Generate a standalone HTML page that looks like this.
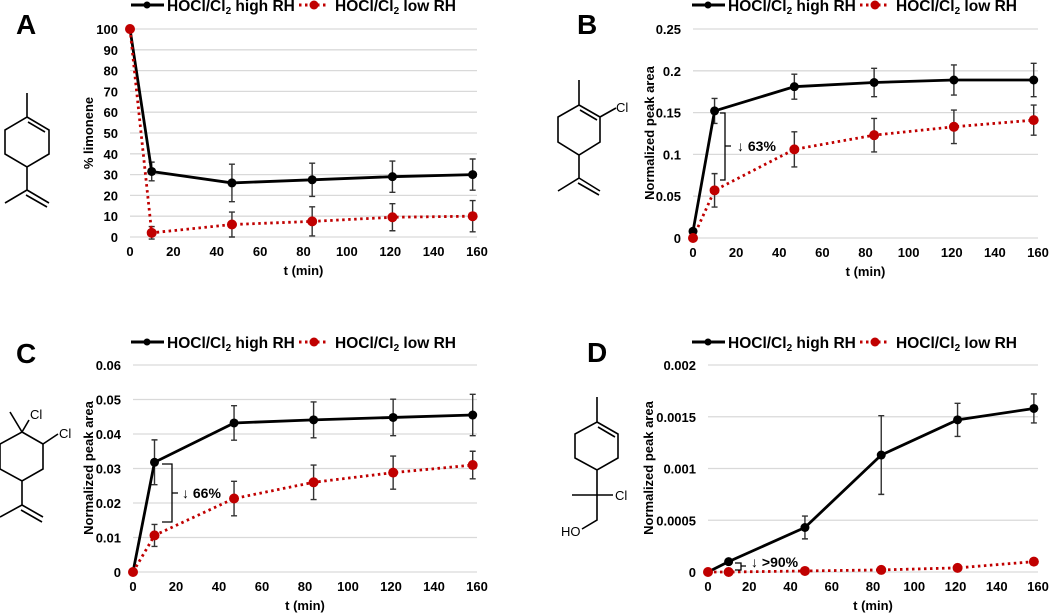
<!DOCTYPE html>
<html><head><meta charset="utf-8">
<style>
html,body{margin:0;padding:0;background:#fff;}
svg{display:block;font-family:"Liberation Sans",Arial,sans-serif;font-weight:bold;}
</style></head>
<body>
<svg id="s" width="1050" height="613" viewBox="0 0 1050 613" xmlns="http://www.w3.org/2000/svg">
<g stroke="#000" stroke-width="1.6" fill="none">
<!-- A limonene -->
<path d="M27,93 L27,117 M27,117 L49,130 L49,154 L27,167 L5,154 L5,130 Z M28,122 L45,132 M27,167 L27,190 L5,203 M27,190 L49,203 M26,195 L47,207"/>
<!-- B -->
<path d="M579,80 L579,105 M579,105 L600,117 L600,142 L579,155 L558,142 L558,117 Z M580,110 L597,120 M600,117 L616,108 M579,155 L579,178 L558,191 M579,178 L600,191 M578,183 L599,195"/>
<!-- C -->
<path d="M22,432 L43,444 L43,469 L22,481 L0,469 L0,444 Z M22,432 L10,412 M22,432 L29,420 M43,444 L58,434 M22,481 L22,505 L0,517 M22,505 L43,517 M21,510 L42,522"/>
<!-- D -->
<path d="M597,397 L597,422 M597,422 L618,434 L618,458 L597,470 L575,458 L575,434 Z M598,427 L615,437 M597,470 L597,495 M572,495 L613,495 M597,495 L597,520 L582,529"/>
</g>
<g font-size="13" fill="#000" font-weight="normal">
<text x="616" y="112">Cl</text>
<text x="30" y="419">Cl</text>
<text x="59" y="438">Cl</text>
<text x="615" y="500">Cl</text>
<text x="561" y="536">HO</text>
</g>
<g font-size="28" fill="#000">
<text x="16" y="34">A</text>
<text x="577" y="34">B</text>
<text x="16" y="363">C</text>
<text x="587" y="362">D</text>
</g>
<g id="plots"></g>
</svg>
<script>
const NS="http://www.w3.org/2000/svg";
const P=document.getElementById('plots');
function el(t,a,txt){const e=document.createElementNS(NS,t);for(const k in a)e.setAttribute(k,a[k]);if(txt!==undefined)e.textContent=txt;P.appendChild(e);return e;}
const T=[0,10,47,84,121,158];
function panel(c){
 const X=t=>c.x0+t/160*(c.x1-c.x0);
 const Y=v=>c.y0-v/c.ymax*(c.y0-c.yt);
 c.yl.forEach((l,i)=>{const v=c.ymax*i/(c.yl.length-1);const y=Y(v);
  el('line',{x1:c.x0,x2:c.x1,y1:y,y2:y,stroke:'#d9d9d9','stroke-width':1.3});
  el('text',{x:c.x0-12,y:y+5,'text-anchor':'end','font-size':13},l);});
 for(let t=0;t<=160;t+=20)el('text',{x:X(t),y:c.y0+19,'text-anchor':'middle','font-size':13},String(t));
 el('text',{x:(c.x0+c.x1)/2,y:c.y0+38,'text-anchor':'middle','font-size':13},'t (min)');
 el('text',{x:c.yx,y:c.ym,'text-anchor':'middle','font-size':13,transform:`rotate(-90 ${c.yx} ${c.ym})`},c.yt_);
 const ly=c.ly;
 el('line',{x1:c.lx,x2:c.lx+33,y1:ly,y2:ly,stroke:'#000','stroke-width':3});
 el('circle',{cx:c.lx+16,cy:ly,r:3.5,fill:'#000'});
 el('text',{x:c.lx+36,y:ly+6,'font-size':15.5},'HOCl/Cl');
 const tb=el('text',{x:c.lx+36,y:ly+6,'font-size':15.5});tb.innerHTML='<tspan fill="none">HOCl/Cl</tspan><tspan font-size="10" dy="3">2</tspan><tspan dy="-3"> high RH</tspan>';
 const rx=c.lx+168;
 el('line',{x1:rx,x2:rx+30,y1:ly,y2:ly,stroke:'#c00000','stroke-width':3,'stroke-dasharray':'2.5,3.5'});
 el('circle',{cx:rx+15,cy:ly,r:4.5,fill:'#c00000'});
 const tr=el('text',{x:rx+36,y:ly+6,'font-size':15.5});tr.innerHTML='HOCl/Cl<tspan font-size="10" dy="3">2</tspan><tspan dy="-3"> low RH</tspan>';
 [[c.b,c.be],[c.r,c.re]].forEach(([d,e])=>{e.forEach((er,i)=>{if(er==null)return;const x=X(T[i]),a=Y(d[i]-er),b=Y(d[i]+er);
  el('path',{d:`M${x},${a}V${b}M${x-3},${a}h6M${x-3},${b}h6`,stroke:'#333','stroke-width':1.4,fill:'none'});});});
 const pts=d=>d.map((v,i)=>X(T[i])+','+Y(v)).join(' ');
 el('polyline',{points:pts(c.b),fill:'none',stroke:'#000','stroke-width':2.8});
 el('polyline',{points:pts(c.r),fill:'none',stroke:'#c00000','stroke-width':2.8,'stroke-dasharray':'2.5,3.5'});
 c.b.forEach((v,i)=>el('circle',{cx:X(T[i]),cy:Y(v),r:4.5,fill:'#000'}));
 c.r.forEach((v,i)=>el('circle',{cx:X(T[i]),cy:Y(v),r:5,fill:'#c00000'}));
}
panel({x0:130,x1:477,y0:237,yt:29,ymax:100,yl:['0','10','20','30','40','50','60','70','80','90','100'],yx:93,ym:133,yt_:'% limonene',lx:131,ly:5,
 b:[100,31.5,26,27.5,29,30],be:[null,4.5,9,8,7.5,7.5],r:[100,2,6,7.5,9.5,10],re:[null,3,6,7,6.5,7.5]});
panel({x0:693,x1:1038,y0:238,yt:29,ymax:0.25,yl:['0','0.05','0.1','0.15','0.2','0.25'],yx:654,ym:133,yt_:'Normalized peak area',lx:692,ly:5,
 b:[0.008,0.152,0.181,0.186,0.189,0.189],be:[null,0.015,0.015,0.017,0.018,0.02],r:[0,0.057,0.106,0.123,0.133,0.141],re:[null,0.02,0.021,0.02,0.02,0.018]});
panel({x0:133,x1:477,y0:572,yt:365,ymax:0.06,yl:['0','0.01','0.02','0.03','0.04','0.05','0.06'],yx:93,ym:468,yt_:'Normalized peak area',lx:131,ly:342,
 b:[0,0.0318,0.0432,0.0441,0.0448,0.0455],be:[null,0.0065,0.005,0.0052,0.0053,0.006],r:[0,0.0106,0.0213,0.026,0.0288,0.031],re:[null,0.0032,0.005,0.005,0.0048,0.004]});
panel({x0:708,x1:1038,y0:572,yt:365,ymax:0.002,yl:['0','0.0005','0.001','0.0015','0.002'],yx:653,ym:468,yt_:'Normalized peak area',lx:692,ly:342,
 b:[0,0.0001,0.00043,0.00113,0.00147,0.00158],be:[null,0.00002,0.00011,0.00038,0.00016,0.00014],r:[0,0,0.00001,0.00002,0.00004,0.0001],re:[null,null,null,null,null,0.00003]});
el('path',{d:'M720,113 h5 V180 h-5 M725,146 h6',stroke:'#000','stroke-width':1.3,fill:'none'});
el('text',{x:737,y:151,'font-size':14},'↓ 63%');
el('path',{d:'M162,464 h10 V522 h-10 M172,493 h6',stroke:'#000','stroke-width':1.3,fill:'none'});
el('text',{x:182,y:498,'font-size':14},'↓ 66%');
el('path',{d:'M735,563 h6 V570 h-6 M741,566 h5',stroke:'#000','stroke-width':1.3,fill:'none'});
el('text',{x:751,y:567,'font-size':14},'↓ >90%');
</script>
</body></html>
